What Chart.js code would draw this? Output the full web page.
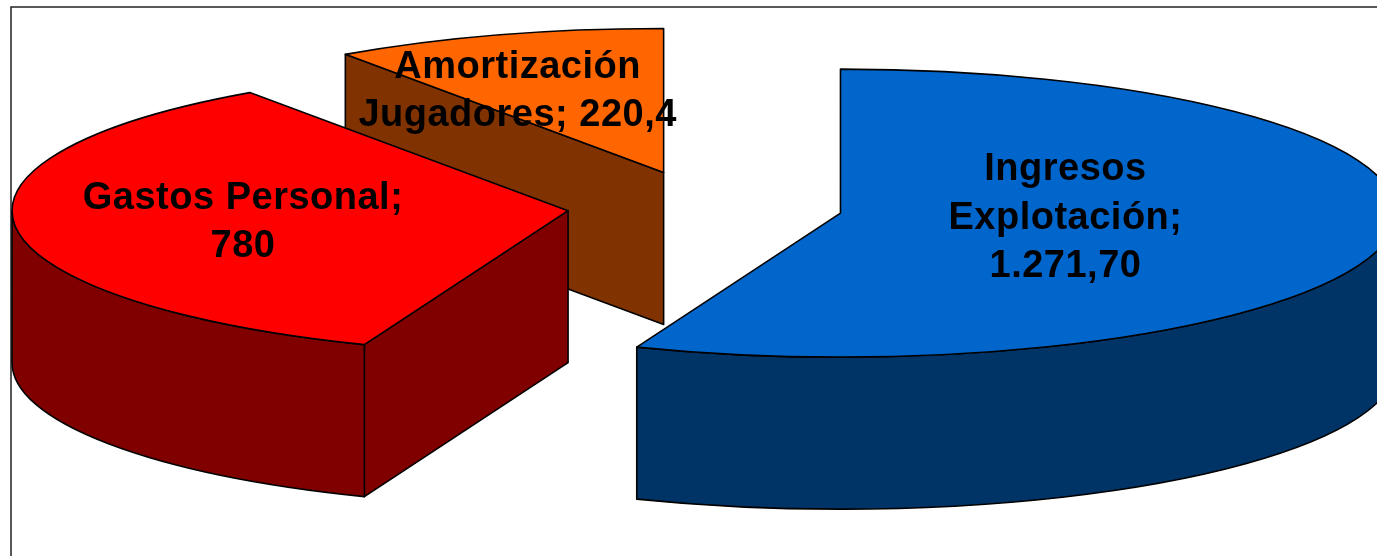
<!DOCTYPE html>
<html><head><meta charset="utf-8">
<script src="https://cdn.jsdelivr.net/npm/chart.js@4"></script>
<style>html,body{margin:0;padding:0;background:#fff;overflow:hidden}#w{width:1377px;height:556px;position:relative}</style>
</head><body><div id="w"><canvas id="c"></canvas></div>
<script>
const categories = ['Ingresos Explotación', 'Gastos Personal', 'Amortización Jugadores'];
const values = [1271.7, 780, 220.4];
const labelLines = [['Ingresos', 'Explotación;', '1.271,70'], ['Gastos Personal;', '780'], ['Amortización', 'Jugadores; 220,4']];
const topColors = ['#0066CC', '#FF0000', '#FF6600'];
const wallColors = ['#003366', '#800000', '#803300'];
const labelShift = [[225, 5], [-325, 12], [-146, -81]];

const RX = 556, RY = 144, DEPTH = 152, EXPLODE = 0.248, LINE_H = 48.5, LW = 1.6;

function geo(chart, arc) {
  const ca = chart.chartArea, cx = (ca.left + ca.right) / 2, cy = (ca.top + ca.bottom) / 2;
  const sx = RX / arc.outerRadius, sy = RY / arc.outerRadius;
  return {sx, sy, cx, cy,
    ax: cx + (arc.x - cx) * sx, ay: cy + (arc.y - cy) * sy,
    a0: arc.startAngle, a1: arc.endAngle};
}
function sector(ctx, g) {
  ctx.beginPath();
  ctx.moveTo(g.ax, g.ay);
  ctx.ellipse(g.ax, g.ay, RX, RY, 0, g.a0, g.a1);
  ctx.closePath();
}
function wallQuad(ctx, g, ang) {
  const x = g.ax + Math.cos(ang) * RX, y = g.ay + Math.sin(ang) * RY;
  ctx.beginPath();
  ctx.moveTo(g.ax, g.ay); ctx.lineTo(x, y); ctx.lineTo(x, y + DEPTH); ctx.lineTo(g.ax, g.ay + DEPTH);
  ctx.closePath(); ctx.fill(); ctx.stroke();
}
const pie3d = {
  id: 'pie3d',
  afterDatasetsUpdate(chart) {
    // explode each slice along its bisector, in the chart's own coordinates
    chart.getDatasetMeta(0).data.forEach(a => {
      const mid = (a.startAngle + a.endAngle) / 2;
      a.x += Math.cos(mid) * EXPLODE * a.outerRadius;
      a.y += Math.sin(mid) * EXPLODE * a.outerRadius;
    });
  },
  beforeDraw(chart) {
    const ctx = chart.ctx;
    ctx.save();
    ctx.fillStyle = '#fff'; ctx.fillRect(0, 0, chart.width, chart.height);
    ctx.strokeStyle = '#222'; ctx.lineWidth = 1.5;
    ctx.strokeRect(11, 7, chart.width + 40, chart.height + 40);
    ctx.restore();
  },
  beforeDatasetDraw(chart) {
    const ctx = chart.ctx, arcs = chart.getDatasetMeta(0).data;
    const order = arcs.map((a, i) => i).sort((p, q) => geo(chart, arcs[p]).ay - geo(chart, arcs[q]).ay);
    ctx.save();
    ctx.lineWidth = LW; ctx.strokeStyle = '#000'; ctx.lineJoin = 'round';
    for (const i of order) {
      const g = geo(chart, arcs[i]);
      ctx.fillStyle = wallColors[i];
      if (-Math.cos(g.a0) > 1e-6) wallQuad(ctx, g, g.a0);
      if (Math.cos(g.a1) > 1e-6) wallQuad(ctx, g, g.a1);
      const f0 = Math.max(g.a0, 0), f1 = Math.min(g.a1, Math.PI);
      if (f1 > f0) {
        ctx.beginPath();
        ctx.ellipse(g.ax, g.ay, RX, RY, 0, f0, f1);
        ctx.ellipse(g.ax, g.ay + DEPTH, RX, RY, 0, f1, f0, true);
        ctx.closePath(); ctx.fill(); ctx.stroke();
      }
    }
    ctx.restore();
    ctx.save();
    const g0 = geo(chart, arcs[0]);
    ctx.translate(g0.cx, g0.cy); ctx.scale(g0.sx, g0.sy); ctx.translate(-g0.cx, -g0.cy);
  },
  afterDatasetDraw(chart) {
    const ctx = chart.ctx, arcs = chart.getDatasetMeta(0).data;
    ctx.restore();
    ctx.save();
    ctx.lineWidth = LW; ctx.strokeStyle = '#000'; ctx.lineJoin = 'round';
    arcs.forEach(a => { sector(ctx, geo(chart, a)); ctx.stroke(); });
    ctx.fillStyle = '#000';
    ctx.font = 'bold 38px "Liberation Sans", Arial, sans-serif';
    ctx.letterSpacing = '0.5px';
    ctx.textAlign = 'center'; ctx.textBaseline = 'middle';
    arcs.forEach((a, i) => {
      const g = geo(chart, a), lines = labelLines[i];
      const x = g.ax + labelShift[i][0], y = g.ay + labelShift[i][1];
      lines.forEach((t, k) => ctx.fillText(t, x, y + (k - (lines.length - 1) / 2) * LINE_H));
    });
    ctx.restore();
  }
};
new Chart(document.getElementById('c'), {
  type: 'pie',
  data: {labels: categories, datasets: [{data: values, backgroundColor: topColors, borderWidth: 0, clip: false}]},
  options: {
    responsive: true, maintainAspectRatio: false, animation: false,
    layout: {padding: {left: 33, bottom: 143}},
    plugins: {legend: {display: false}, title: {display: false}, tooltip: {enabled: false}}
  },
  plugins: [pie3d]
});
</script></body></html>
